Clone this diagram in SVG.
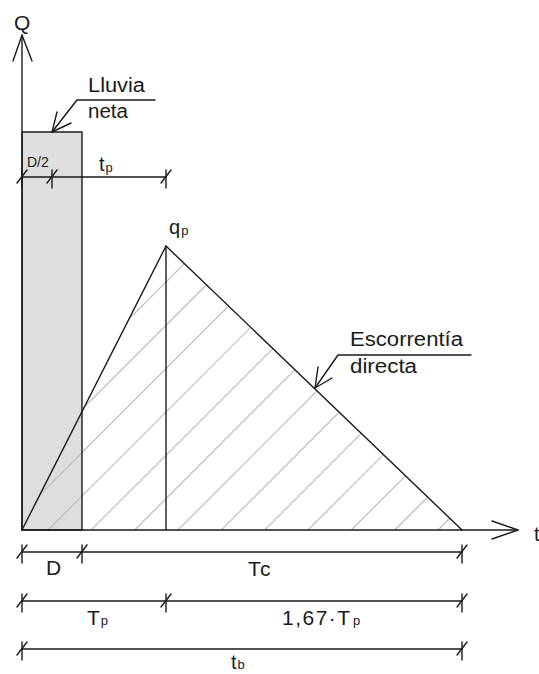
<svg xmlns="http://www.w3.org/2000/svg" width="539" height="674" viewBox="0 0 539 674">
<style>
.ln{stroke:#1a1a1a;stroke-width:1.4;fill:none;stroke-linecap:round;stroke-linejoin:round}
.h{stroke:#bdbdbd;stroke-width:1.2;fill:none}
.tx{font-family:"Liberation Sans",Arial,sans-serif;fill:#1a1a1a}
.big{font-size:20px}
.sub{font-size:13px}
</style>
<defs>
<clipPath id="tri"><polygon points="22,530 166,246 462,530"/></clipPath>
<g id="tick"><line class="ln" x1="0" y1="-7" x2="0" y2="11"/><line class="ln" x1="-5" y1="6" x2="5" y2="-7"/></g>
</defs>
<rect id="rain" x="22" y="132" width="60" height="398" fill="#dedede"/>
<g id="hatch" clip-path="url(#tri)">
<line class="h" x1="-82" y1="530" x2="218" y2="230"/>
<line class="h" x1="-38.7" y1="530" x2="261.3" y2="230"/>
<line class="h" x1="4.7" y1="530" x2="304.7" y2="230"/>
<line class="h" x1="48" y1="530" x2="348" y2="230"/>
<line class="h" x1="91.3" y1="530" x2="391.3" y2="230"/>
<line class="h" x1="134.7" y1="530" x2="434.7" y2="230"/>
<line class="h" x1="178" y1="530" x2="478" y2="230"/>
<line class="h" x1="221.3" y1="530" x2="521.3" y2="230"/>
<line class="h" x1="264.7" y1="530" x2="564.7" y2="230"/>
<line class="h" x1="308" y1="530" x2="608" y2="230"/>
<line class="h" x1="351.3" y1="530" x2="651.3" y2="230"/>
<line class="h" x1="394.7" y1="530" x2="694.7" y2="230"/>
<line class="h" x1="438" y1="530" x2="738" y2="230"/>
</g>
<g id="hydrograph">
<rect class="ln" x="22" y="132" width="60" height="398"/>
<polyline class="ln" points="22,530 166,246 462,530"/>
<line class="ln" x1="166" y1="246" x2="166" y2="530"/>
</g>
<g id="axes">
<line class="ln" x1="22" y1="530" x2="22" y2="35"/>
<polyline class="ln" points="13,61 22,35 32,61"/>
<line class="ln" x1="22" y1="530" x2="518" y2="530"/>
<polyline class="ln" points="492,521 518,530 492,539"/>
<text class="tx" x="14" y="30" font-size="21">Q</text>
<text class="tx big" x="534" y="541">t</text>
</g>
<g id="label-lluvia">
<polyline class="ln" points="155,100 77,100 52,132"/>
<polyline class="ln" points="57,112 52,132 71,123"/>
<text class="tx big" x="88" y="92" textLength="57" lengthAdjust="spacingAndGlyphs">Lluvia</text>
<text class="tx big" x="88" y="118" textLength="40" lengthAdjust="spacingAndGlyphs">neta</text>
</g>
<g id="label-escorrentia">
<polyline class="ln" points="471,355 338,355 315,388"/>
<polyline class="ln" points="318,367 315,388 332,378"/>
<text class="tx big" x="350" y="346" textLength="113" lengthAdjust="spacingAndGlyphs">Escorrentía</text>
<text class="tx big" x="350" y="373" textLength="67" lengthAdjust="spacingAndGlyphs">directa</text>
</g>
<g id="label-qp">
<text class="tx big" x="169" y="234">q<tspan class="sub" dx="1" dy="1">p</tspan></text>
</g>
<g id="dim-top">
<line class="ln" x1="22" y1="177" x2="166" y2="177"/>
<use href="#tick" x="22" y="177"/>
<use href="#tick" x="52" y="177"/>
<use href="#tick" x="166" y="177"/>
<text class="tx" x="27" y="167" font-size="14">D/2</text>
<text class="tx big" x="99" y="171">t<tspan class="sub" dx="1" dy="1">p</tspan></text>
</g>
<g id="dim-1">
<line class="ln" x1="22" y1="552" x2="462" y2="552"/>
<use href="#tick" x="22" y="552"/>
<use href="#tick" x="82" y="552"/>
<use href="#tick" x="462" y="552"/>
<text class="tx" x="46" y="575" font-size="21">D</text>
<text class="tx" x="248" y="576" font-size="21" letter-spacing="1.5">Tc</text>
</g>
<g id="dim-2">
<line class="ln" x1="22" y1="601" x2="462" y2="601"/>
<use href="#tick" x="22" y="601"/>
<use href="#tick" x="166" y="601"/>
<use href="#tick" x="462" y="601"/>
<text class="tx" x="87" y="625" font-size="21">T<tspan class="sub" dx="1">p</tspan></text>
<text class="tx" x="282" y="625" font-size="21" letter-spacing="1.5">1,67·T</text>
<text class="tx sub" x="353" y="625">p</text>
</g>
<g id="dim-3">
<line class="ln" x1="22" y1="649" x2="462" y2="649"/>
<use href="#tick" x="22" y="649"/>
<use href="#tick" x="462" y="649"/>
<text class="tx big" x="231" y="669">t<tspan class="sub" dx="1">b</tspan></text>
</g>
</svg>
